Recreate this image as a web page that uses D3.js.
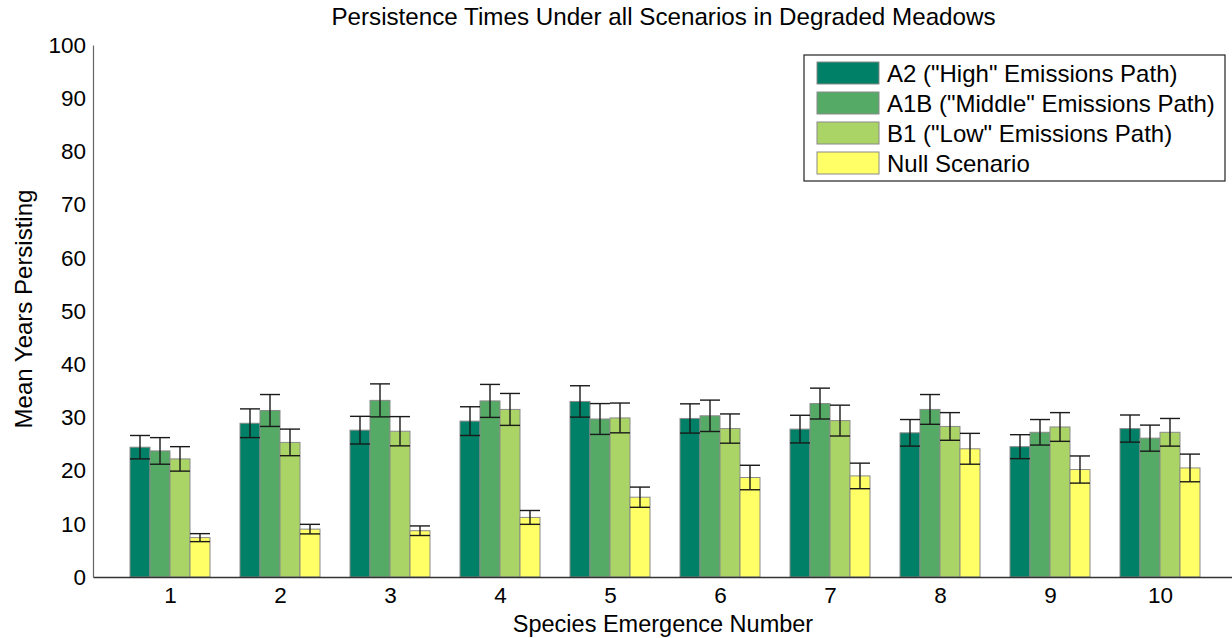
<!DOCTYPE html>
<html>
<head>
<meta charset="utf-8">
<script src="https://cdn.jsdelivr.net/npm/d3@7"></script>
<style>
  html, body { margin: 0; padding: 0; background: #fff; }
  svg { display: block; font-family: "Liberation Sans", Arial, Helvetica, sans-serif; }
</style>
</head>
<body>
<svg id="chart" width="1232" height="638"></svg>
<script>
// Species emergence numbers along the x axis
const categories = [1, 2, 3, 4, 5, 6, 7, 8, 9, 10];

// Scenario names shown in the legend
const seriesNames = [
  'A2 ("High" Emissions Path)',
  'A1B ("Middle" Emissions Path)',
  'B1 ("Low" Emissions Path)',
  'Null Scenario'
];

// Mean years persisting, one array per scenario
const meanA2   = [24.4, 28.9, 27.6, 29.3, 33.0, 29.8, 27.8, 27.1, 24.5, 27.9];
const meanA1B  = [23.7, 31.3, 33.2, 33.1, 29.7, 30.3, 32.6, 31.5, 27.2, 26.1];
const meanB1   = [22.2, 25.3, 27.4, 31.5, 29.9, 27.9, 29.4, 28.3, 28.2, 27.2];
const meanNull = [7.4, 9.0, 8.7, 11.2, 15.0, 18.7, 19.0, 24.1, 20.2, 20.5];

// Half-widths of the error bars, one array per scenario
const errA2   = [2.2, 2.7, 2.6, 2.7, 2.95, 2.75, 2.6, 2.5, 2.25, 2.55];
const errA1B  = [2.5, 3.0, 3.1, 3.1, 2.9, 2.95, 2.9, 2.8, 2.4, 2.45];
const errB1   = [2.3, 2.5, 2.75, 3.0, 2.8, 2.75, 2.9, 2.6, 2.7, 2.6];
const errNull = [0.75, 0.9, 0.9, 1.3, 1.9, 2.3, 2.4, 2.9, 2.55, 2.6];

// y axis tick values
const yTicks = [0, 10, 20, 30, 40, 50, 60, 70, 80, 90, 100];

const means = [meanA2, meanA1B, meanB1, meanNull];
const errs = [errA2, errA1B, errB1, errNull];
const colors = ["#008066", "#55aa66", "#aad466", "#ffff66"];

const svg = d3.select("#chart");

const plotLeft = 93, plotTop = 45, plotBottom = 577;

const x = d3.scaleLinear().domain([0.3, 10.7]).range([plotLeft, plotLeft + 1144]);
const y = d3.scaleLinear().domain([0, 100]).range([plotBottom, plotTop]);

// Bars within a group, in data units around the category centre
const inner = d3.scaleBand()
  .domain(d3.range(seriesNames.length))
  .range([-0.3636, 0.3636])
  .paddingInner(0)
  .paddingOuter(0);

const rows = [];
categories.forEach((c, ci) => {
  seriesNames.forEach((s, si) => {
    rows.push({ c, si, v: means[si][ci], e: errs[si][ci] });
  });
});

const barX0 = d => x(d.c + inner(d.si));
const barX1 = d => x(d.c + inner(d.si) + inner.bandwidth());

// Bars
svg.append("g").selectAll("rect").data(rows).join("rect")
  .attr("x", barX0)
  .attr("width", d => barX1(d) - barX0(d))
  .attr("y", d => y(d.v))
  .attr("height", d => y(0) - y(d.v))
  .attr("fill", d => colors[d.si])
  .attr("stroke", "#8a8a8a")
  .attr("stroke-width", 1);

// Error bars
const eb = svg.append("g").attr("stroke", "#1a1a1a").attr("stroke-width", 1.4);
rows.forEach(d => {
  const cx = (barX0(d) + barX1(d)) / 2;
  const x0 = barX0(d), x1 = barX1(d);
  eb.append("line").attr("x1", cx).attr("x2", cx).attr("y1", y(d.v - d.e)).attr("y2", y(d.v + d.e));
  eb.append("line").attr("x1", x0).attr("x2", x1).attr("y1", y(d.v + d.e)).attr("y2", y(d.v + d.e));
  eb.append("line").attr("x1", x0).attr("x2", x1).attr("y1", y(d.v - d.e)).attr("y2", y(d.v - d.e));
});

// Axes
const yAxis = svg.append("g")
  .attr("transform", `translate(${plotLeft},0)`)
  .call(d3.axisLeft(y).tickValues(yTicks).tickSize(0).tickPadding(7));
yAxis.select(".domain").attr("stroke", "#666").attr("stroke-width", 1.2);
yAxis.selectAll("text").attr("font-size", 22.5).attr("fill", "#000")
  .attr("font-family", "Liberation Sans, Arial, sans-serif");

const xAxis = svg.append("g")
  .attr("transform", `translate(0,${plotBottom})`)
  .call(d3.axisBottom(x).tickValues(categories).tickFormat(d3.format("d")).tickSize(0).tickPadding(10));
xAxis.select(".domain").attr("stroke", "#333").attr("stroke-width", 1.4);
xAxis.selectAll("text").attr("font-size", 22.5).attr("fill", "#000")
  .attr("font-family", "Liberation Sans, Arial, sans-serif");

// Title and axis labels
svg.append("text")
  .attr("x", 663.5).attr("y", 25)
  .attr("text-anchor", "middle")
  .attr("font-size", 24.2)
  .text("Persistence Times Under all Scenarios in Degraded Meadows");

svg.append("text")
  .attr("x", 663).attr("y", 632)
  .attr("text-anchor", "middle")
  .attr("font-size", 23.5)
  .text("Species Emergence Number");

svg.append("text")
  .attr("transform", `translate(32,309) rotate(-90)`)
  .attr("text-anchor", "middle")
  .attr("font-size", 24)
  .text("Mean Years Persisting");

// Legend
const legend = svg.append("g").attr("transform", "translate(804,55)");
legend.append("rect")
  .attr("width", 421).attr("height", 126)
  .attr("fill", "#fff").attr("stroke", "#222").attr("stroke-width", 1.2);
seriesNames.forEach((name, i) => {
  const g = legend.append("g").attr("transform", `translate(13,${7 + i * 30})`);
  g.append("rect").attr("width", 62).attr("height", 22)
    .attr("fill", colors[i]).attr("stroke", "#8a8a8a").attr("stroke-width", 1);
  g.append("text").attr("x", 70).attr("y", 19.5)
    .attr("font-size", 24).text(name);
});
</script>
</body>
</html>
